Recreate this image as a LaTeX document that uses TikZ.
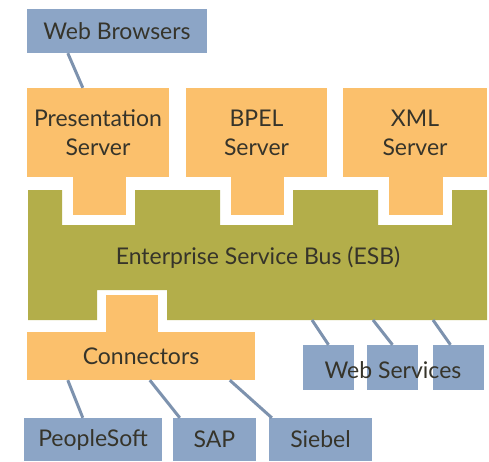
\documentclass[tikz,border=0pt]{standalone}
\usepackage{fontspec}
\setmainfont{Lato}
\usepackage{tikz}
\usetikzlibrary{positioning, calc}
\definecolor{myblue}{HTML}{8CA5C6}
\definecolor{myorange}{HTML}{FBC06C}
\definecolor{mygreen}{HTML}{B3AE4A}
\definecolor{mylink}{HTML}{7D92AE}
\definecolor{mytext}{HTML}{36342A}

\begin{document}
\begin{tikzpicture}[x=1pt, y=-1pt,
  bluebox/.style={fill=myblue, inner sep=0pt, text=mytext, font=\fontsize{23}{29}\selectfont},
  orangebox/.style={fill=myorange, inner sep=0pt, text=mytext, align=center, font=\fontsize{23}{29}\selectfont},
  link/.style={draw=mylink, line width=3pt}]
  \useasboundingbox (0,0) rectangle (489,461);

  % Web Browsers
  \node (browsers) at (117,31) [bluebox, minimum width=180pt, minimum height=44pt] {Web Browsers};

  % Servers
  \node (pres) at (98,132.5) [orangebox, minimum width=142pt, minimum height=89pt] {Presentation\\Server};
  \node (bpel) at (256.5,132.5) [orangebox, minimum width=141pt, minimum height=89pt] {BPEL\\Server};
  \node (xml) at (415,132.5) [orangebox, minimum width=144pt, minimum height=89pt] {XML\\Server};

  % Server tabs
  \fill[myorange] ($(pres.south)+(-25.5,0)$) rectangle ($(pres.south)+(27.5,38)$);
  \fill[myorange] ($(bpel.south)+(-25.5,0)$) rectangle ($(bpel.south)+(27.5,38)$);
  \fill[myorange] ($(xml.south)+(-26,0)$) rectangle ($(xml.south)+(28,38)$);

  % ESB
  \fill[mygreen] (28,190) -- (62,190) -- (62,225) -- (135,225) -- (135,190)
    -- (220,190) -- (220,225) -- (293,225) -- (293,190)
    -- (378,190) -- (378,225) -- (452,225) -- (452,190)
    -- (487,190) -- (487,320) -- (167,320) -- (167,290) -- (97,290) -- (97,320)
    -- (28,320) -- cycle;
  \node (esb) at (258,258) [text=mytext, font=\fontsize{23}{29}\selectfont] {Enterprise Service Bus (ESB)};

  % Connectors
  \node (conn) at (141,356) [orangebox, minimum width=228pt, minimum height=48pt] {Connectors};
  \fill[myorange] ($(conn.north west)+(79,0)$) rectangle ($(conn.north west)+(131,-37)$);

  % Web Services
  \node (ws1) at (328.5,367.5) [fill=myblue, minimum width=51pt, minimum height=45pt] {};
  \node (ws2) at (392.5,367.5) [fill=myblue, minimum width=51pt, minimum height=45pt] {};
  \node (ws3) at (458.5,367.5) [fill=myblue, minimum width=51pt, minimum height=45pt] {};
  \node (ws) at (393,370) [text=mytext, font=\fontsize{23}{29}\selectfont] {Web Services};
  \coordinate (esb1) at (312,320);
  \coordinate (esb2) at (373,320);
  \coordinate (esb3) at (433,320);

  % Back ends
  \node (people) at (93,439.5) [bluebox, minimum width=138pt, minimum height=43pt] {PeopleSoft};
  \node (sap) at (214.5,439.5) [bluebox, minimum width=83pt, minimum height=43pt] {SAP};
  \node (siebel) at (320.5,439.5) [bluebox, minimum width=103pt, minimum height=43pt] {Siebel};

  % links
  \draw[link] ($(browsers.south west)+(41,0)$) -- ($(pres.north west)+(56,0)$);
  \draw[link] (esb1) -- (ws1.north);
  \draw[link] (esb2) -- (ws2.north);
  \draw[link] (esb3) -- ($(ws3.north)+(-8,0)$);
  \draw[link] ($(conn.south west)+(41,0)$) -- ($(people.north west)+(59,0)$);
  \draw[link] ($(conn.south west)+(123,0)$) -- ($(sap.north west)+(7,0)$);
  \draw[link] ($(conn.south west)+(203,0)$) -- ($(siebel.north west)+(3,0)$);
\end{tikzpicture}
\end{document}
